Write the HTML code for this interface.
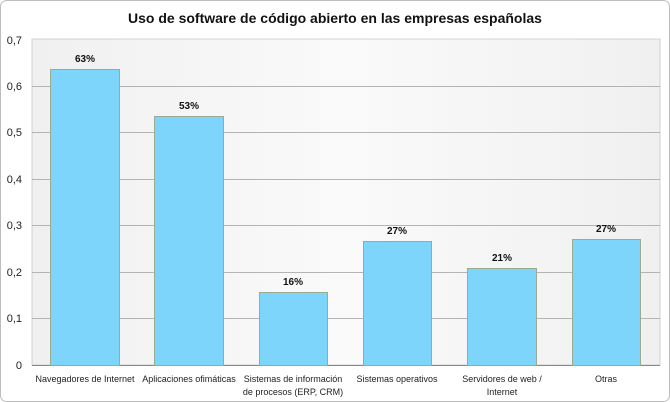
<!DOCTYPE html>
<html><head><meta charset="utf-8"><style>
body{margin:0;background:#fff;}
svg{display:block;font-family:"Liberation Sans",sans-serif;}
</style></head><body>
<svg width="670" height="402" viewBox="0 0 670 402">
<defs><linearGradient id="bg" x1="0" y1="0" x2="1" y2="0">
<stop offset="0" stop-color="#f0f0f0"/><stop offset="0.5" stop-color="#fafafa"/><stop offset="1" stop-color="#f0f0f0"/></linearGradient></defs>
<rect x="0.5" y="0.5" width="669" height="401" rx="6" fill="#fff" stroke="#bdbdbd"/>
<text x="335" y="23" text-anchor="middle" font-size="14" font-weight="bold" fill="#111">Uso de software de código abierto en las empresas españolas</text>
<rect x="32" y="39" width="628" height="326" fill="url(#bg)" stroke="#d0d0d0"/>
<g stroke="#b4b4b4" stroke-width="1">
<line x1="32" x2="660" y1="86.5" y2="86.5"/><line x1="32" x2="660" y1="132.5" y2="132.5"/>
<line x1="32" x2="660" y1="179.5" y2="179.5"/><line x1="32" x2="660" y1="225.5" y2="225.5"/>
<line x1="32" x2="660" y1="272.5" y2="272.5"/><line x1="32" x2="660" y1="318.5" y2="318.5"/>
</g>
<line x1="32" x2="660" y1="365.5" y2="365.5" stroke="#888"/>
<g font-size="11" fill="#222" text-anchor="end">
<text x="22" y="44">0,7</text><text x="22" y="90">0,6</text><text x="22" y="136">0,5</text><text x="22" y="183">0,4</text><text x="22" y="229">0,3</text><text x="22" y="276">0,2</text><text x="22" y="322">0,1</text><text x="22" y="369">0</text>
</g>
<g fill="#7dd5fc" stroke="#9aab8f">
<rect x="50.5" y="69.5" width="69" height="296"/>
<rect x="154.5" y="116.5" width="69" height="249"/>
<rect x="259.5" y="292.5" width="68" height="73"/>
<rect x="363.5" y="241.5" width="68" height="124"/>
<rect x="467.5" y="268.5" width="69" height="97"/>
<rect x="572.5" y="239.5" width="68" height="126"/>
</g>
<g font-size="10" font-weight="bold" fill="#111" text-anchor="middle">
<text x="85" y="62">63%</text><text x="189" y="109">53%</text><text x="293" y="285">16%</text>
<text x="397" y="234">27%</text><text x="502" y="261">21%</text><text x="606" y="232">27%</text>
</g>
<g font-size="9" fill="#222" text-anchor="middle">
<text x="85" y="382">Navegadores de Internet</text>
<text x="189" y="382">Aplicaciones ofimáticas</text>
<text x="293" y="382">Sistemas de información</text><text x="293" y="395">de procesos (ERP, CRM)</text>
<text x="397" y="382">Sistemas operativos</text>
<text x="502" y="382">Servidores de web /</text><text x="502" y="395">Internet</text>
<text x="606" y="382">Otras</text>
</g>
</svg>
</body></html>
